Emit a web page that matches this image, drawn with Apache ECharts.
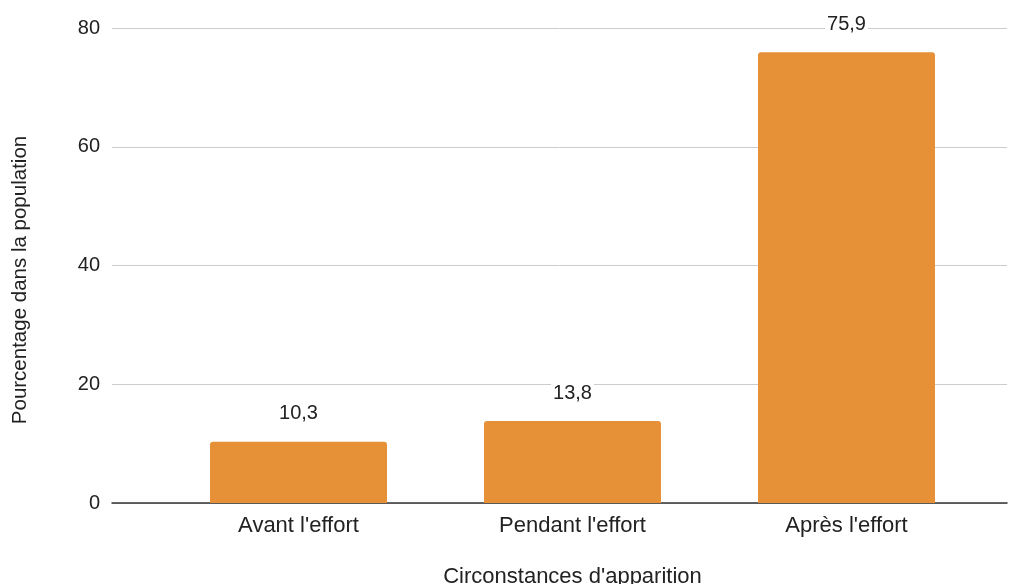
<!DOCTYPE html>
<html>
<head>
<meta charset="utf-8">
<script src="https://cdn.jsdelivr.net/npm/echarts@6/dist/echarts.min.js"></script>
<style>
  html, body { margin: 0; padding: 0; background: #fff; }
  #chart { width: 1019px; height: 584px; }
</style>
</head>
<body>
<div id="chart"></div>
<script>
// Circonstances d'apparition des symptômes (% de la population)
const categories = ["Avant l'effort", "Pendant l'effort", "Après l'effort"];
const values = [10.3, 13.8, 75.9];
const yTicks = [0, 20, 40, 60, 80];
const xTitle = "Circonstances d'apparition";
const yTitle = 'Pourcentage dans la population';

const axisMin = yTicks[0];
const axisMax = yTicks[yTicks.length - 1];
const step = yTicks[1] - yTicks[0];
const FONT = "'Liberation Sans', Arial, sans-serif";

const chart = echarts.init(document.getElementById('chart'), null, { renderer: 'canvas' });

chart.setOption({
  backgroundColor: '#ffffff',
  animation: false,
  grid: [
    // full-width frame: gridlines, value ticks, baseline
    { left: 112, right: 12, top: 28, bottom: 81, outerBoundsMode: 'none', containLabel: false },
    // inset frame holding the bars
    { left: 161.5, right: 35.5, top: 28, bottom: 81, outerBoundsMode: 'none', containLabel: false }
  ],
  graphic: [
    {
      type: 'text', x: 20, y: 280, rotation: Math.PI / 2,
      style: {
        text: yTitle, font: '20.5px ' + FONT, fill: '#222222',
        align: 'center', verticalAlign: 'middle'
      }
    }
  ],
  xAxis: [
    {
      gridIndex: 0, type: 'value', min: 0, max: 1,
      axisLine: { show: true, onZero: false, lineStyle: { color: '#333333', width: 1.5 } },
      axisTick: { show: false }, axisLabel: { show: false }, splitLine: { show: false }
    },
    {
      gridIndex: 1, type: 'category', data: categories,
      axisLine: { show: false }, axisTick: { show: false }, splitLine: { show: false },
      axisLabel: {
        margin: 12, fontFamily: FONT, fontSize: 22, color: '#222222'
      },
      name: xTitle,
      nameLocation: 'middle', nameGap: 63,
      nameTextStyle: { fontFamily: FONT, fontSize: 22, color: '#222222' }
    }
  ],
  yAxis: [
    {
      gridIndex: 0, type: 'value', min: axisMin, max: axisMax, interval: step,
      axisLine: { show: false }, axisTick: { show: false },
      axisLabel: { margin: 12, fontFamily: FONT, fontSize: 20, color: '#222222' },
      splitLine: { show: true, lineStyle: { color: '#cccccc', width: 1 } }
    },
    {
      gridIndex: 1, type: 'value', min: axisMin, max: axisMax, interval: step,
      axisLine: { show: false }, axisTick: { show: false },
      axisLabel: { show: false }, splitLine: { show: false }
    }
  ],
  series: [
    {
      type: 'bar',
      xAxisIndex: 1, yAxisIndex: 1,
      data: values,
      barCategoryGap: '35.4%',
      itemStyle: { color: '#e69138', borderRadius: [3, 3, 0, 0] },
      label: {
        show: true, position: 'top', distance: 18,
        fontFamily: FONT, fontSize: 20, color: '#222222',
        backgroundColor: '#ffffff', padding: [0, 2],
        formatter: p => String(p.value).replace('.', ',')
      },
      z: 3
    }
  ]
});
</script>
</body>
</html>
